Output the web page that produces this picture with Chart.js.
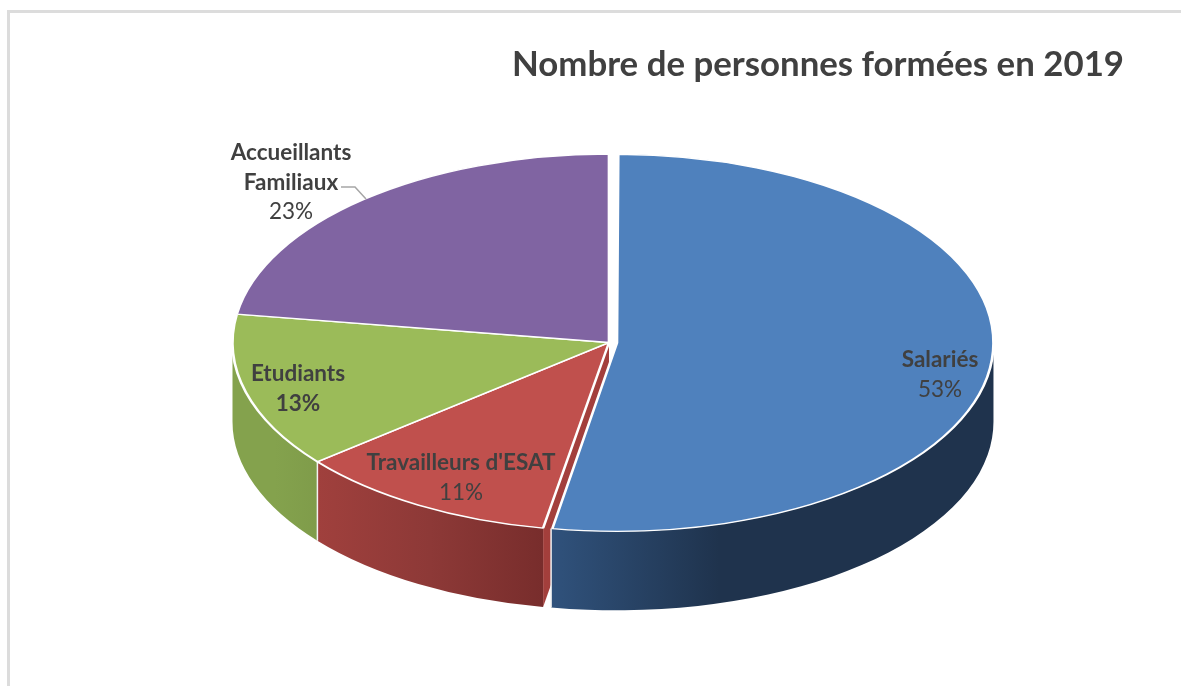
<!DOCTYPE html>
<html lang="fr">
<head>
<meta charset="utf-8">
<title>Nombre de personnes formées en 2019</title>
<style>
html,body{margin:0;padding:0;background:#fff;width:1181px;height:686px;overflow:hidden}
#frame{position:absolute;left:7px;top:10px;right:0;bottom:0;border-top:3px solid #dcdcdc;border-left:3px solid #dcdcdc}
canvas{position:absolute;left:0;top:0}
</style>
<script src="https://cdn.jsdelivr.net/npm/chart.js@4"></script>
</head>
<body>
<div id="frame"></div>
<canvas id="c" width="1181" height="686"></canvas>
<script>
const titleText = 'Nombre de personnes formées en 2019';
const categoryLines = [['Salariés'], ["Travailleurs d'ESAT"], ['Etudiants'], ['Accueillants', 'Familiaux']];
const categories = categoryLines.map(l => l.join(' '));
const values = [52.8, 11.3, 13.3, 22.6];
const explode = [24, 0, 0, 0];
const faceColors = ['#4f81bd', '#c0504d', '#9bbb59', '#8064a2'];

// 3D look: projected ellipse and wall shading
const view = {cx: 609, cy: 342.5, rx: 376.5, ry: 188.5, depth: 79};
const wallStops = [
  ['#30527c', '#1f334d', '#1f334d'],
  ['#a0403d', '#8d3937', '#782d2c'],
  ['#84a24d', '#84a24d', '#7f9c4a'],
  ['#5f4a7a', '#5f4a7a', '#5f4a7a']
];
const wallStopAt = [[0, .38, 1], [0, .5, 1], [0, .5, 1], [0, .5, 1]];
const cutFaceColor = '#a33f3c';

// label blocks: centre x, first baseline
const labelBoxes = [
  {x: 940, y: 367, pctBold: false},
  {x: 461, y: 470, pctBold: false},
  {x: 298, y: 381, pctBold: true},
  {x: 291, y: 160, pctBold: false}
];
const leader = [[341, 187], [355, 187], [366, 199]];

// Chart.js moves an exploded arc by a quarter of its offset option
const armOf = a => (a.options.offset || 0) / 4;

const pie3d = {
  id: 'pie3d',
  afterDatasetsUpdate(chart) {
    // keep the exploded slice at the same radius as the others
    chart.getDatasetMeta(0).data.forEach(arc => {
      const fix = 1 - Math.sin(Math.min(Math.PI, arc.circumference));
      arc.outerRadius -= armOf(arc) * fix;
    });
  },
  beforeDatasetsDraw(chart) {
    const ctx = chart.ctx;
    const meta = chart.getDatasetMeta(0);
    const R = meta.controller.outerRadius;
    const sx = view.rx / R, sy = view.ry / R;
    const geo = meta.data.map(a => {
      const mid = (a.startAngle + a.endAngle) / 2, off = armOf(a);
      return {a, cx: view.cx + Math.cos(mid) * off * sx, cy: view.cy + Math.sin(mid) * off * sy};
    });

    // inner cut face of the slice next to the exploded one
    const nb = geo[1], sa = nb.a.startAngle;
    const ex = nb.cx + Math.cos(sa) * view.rx, ey = nb.cy + Math.sin(sa) * view.ry;
    ctx.save();
    ctx.fillStyle = cutFaceColor;
    ctx.beginPath();
    ctx.moveTo(nb.cx, nb.cy);
    ctx.lineTo(ex, ey);
    ctx.lineTo(ex, ey + view.depth);
    ctx.lineTo(nb.cx, nb.cy + view.depth);
    ctx.closePath();
    ctx.fill();

    // outer walls
    geo.forEach((g, i) => {
      const a0 = Math.max(g.a.startAngle, 0), a1 = Math.min(g.a.endAngle, Math.PI);
      if (a1 <= a0) return;
      const xa = g.cx + Math.cos(a0) * view.rx, xb = g.cx + Math.cos(a1) * view.rx;
      const left = Math.min(xa, xb), right = Math.max(xa, xb);
      const grad = ctx.createLinearGradient(left, 0, right, 0);
      // left-to-right shading
      wallStops[i].forEach((c, k) => grad.addColorStop(wallStopAt[i][k], c));
      ctx.fillStyle = grad;
      ctx.beginPath();
      ctx.ellipse(g.cx, g.cy, view.rx, view.ry, 0, a0, a1, false);
      ctx.ellipse(g.cx, g.cy + view.depth, view.rx, view.ry, 0, a1, a0, true);
      ctx.closePath();
      ctx.fill();
    });

    // white seams on the wall corners
    ctx.strokeStyle = '#f2f2f2';
    ctx.lineWidth = 1.5;
    geo.forEach(g => {
      const a = g.a.endAngle;
      if (a > 0 && a < Math.PI) {
        const x = g.cx + Math.cos(a) * view.rx, y = g.cy + Math.sin(a) * view.ry;
        ctx.beginPath(); ctx.moveTo(x, y); ctx.lineTo(x, y + view.depth); ctx.stroke();
      }
    });
    ctx.restore();

    // the library draws the top faces inside this projection
    ctx.save();
    const o = meta.data[1];
    ctx.translate(view.cx, view.cy);
    ctx.scale(sx, sy);
    ctx.translate(-o.x, -o.y);
  },
  afterDatasetsDraw(chart) {
    const ctx = chart.ctx;
    ctx.restore();

    ctx.save();
    ctx.strokeStyle = '#a6a6a6';
    ctx.lineWidth = 1.5;
    ctx.beginPath();
    leader.forEach((p, i) => i ? ctx.lineTo(p[0], p[1]) : ctx.moveTo(p[0], p[1]));
    ctx.stroke();

    ctx.textAlign = 'center';
    ctx.textBaseline = 'alphabetic';
    const total = values.reduce((s, v) => s + v, 0);
    labelBoxes.forEach((b, i) => {
      let y = b.y;
      ctx.fillStyle = '#404040';
      ctx.font = 'bold 22.5px Lato';
      categoryLines[i].forEach(line => { ctx.fillText(line, b.x, y); y += 29.5; });
      ctx.font = (b.pctBold ? 'bold ' : '') + '22.5px Lato';
      ctx.fillText(Math.round(values[i] / total * 100) + '%', b.x, y);
    });
    ctx.restore();
  }
};

new Chart(document.getElementById('c'), {
  type: 'pie',
  data: {
    labels: categories,
    datasets: [{
      data: values,
      backgroundColor: faceColors,
      borderColor: '#ffffff',
      borderWidth: 2,
      offset: explode,
      clip: false
    }]
  },
  options: {
    responsive: false,
    animation: false,
    events: [],
    devicePixelRatio: 1,
    layout: {padding: {right: 57}},
    plugins: {
      legend: {display: false},
      tooltip: {enabled: false},
      title: {
        display: true,
        text: titleText,
        align: 'end',
        color: '#404040',
        font: {family: 'Lato', size: 34.8, weight: 'bold'},
        padding: {top: 44, bottom: 10}
      }
    }
  },
  plugins: [pie3d]
});
</script>
</body>
</html>
